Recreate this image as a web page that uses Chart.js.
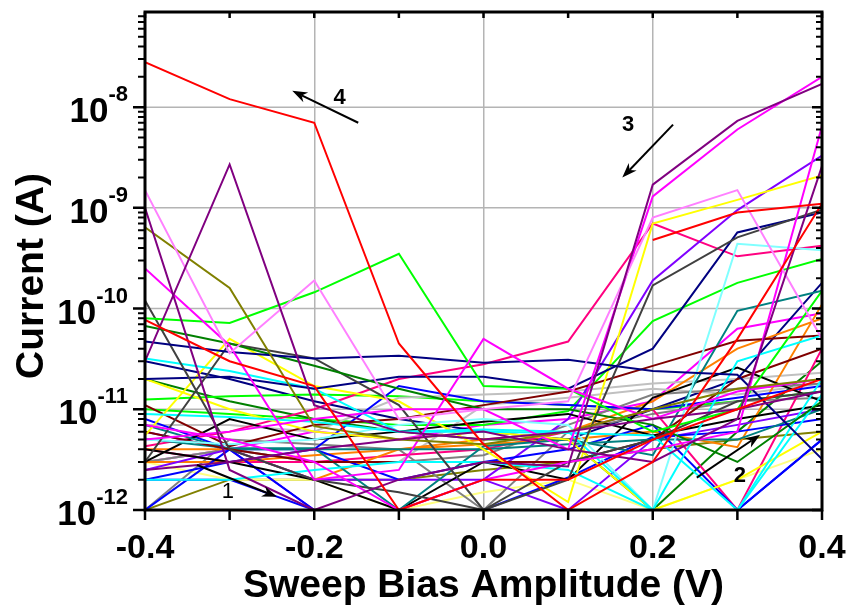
<!DOCTYPE html>
<html>
<head>
<meta charset="utf-8">
<script src="https://cdn.jsdelivr.net/npm/chart.js@4.4.1/dist/chart.umd.min.js"></script>
<style>
  body { margin: 0; background: #fff; }
  #wrap { width: 849px; height: 605px; }
</style>
</head>
<body>
<div id="wrap"><canvas id="ivChart" width="849" height="605"></canvas></div>
<script>
// sweep bias points (V)
const xValues = [-0.4, -0.3, -0.2, -0.1, 0.0, 0.1, 0.2, 0.3, 0.4];
const xTickLabels = ['-0.4', '-0.2', '0.0', '0.2', '0.4'];
const yTickValues = [1e-12, 1e-11, 1e-10, 1e-9, 1e-8];
const yTickExponents = ['-12', '-11', '-10', '-9', '-8'];

// one colour per sweep, same order as seriesCurrents
const seriesColors = [
  '#ff0000', '#ff0000', '#ff0000', '#800080', '#800080', '#800080', '#ff80ff', '#808000',
  '#ff00ff', '#ff00ff', '#ff00ff', '#00ff00', '#000080', '#008000', '#404040', '#404040',
  '#000080', '#00ffff', '#00ffff', '#00ffff', '#80ffff', '#ffff00', '#ffff00', '#800000',
  '#800000', '#008080', '#008080', '#000000', '#000000', '#0000ff', '#0000ff', '#0000ff',
  '#8000ff', '#8000ff', '#ff8000', '#ff8000', '#ff0080', '#ff0080', '#808080', '#808080',
  '#c0c0c0', '#c0c0c0', '#ffff80', '#00ff00', '#008000', '#00ff00', '#000080', '#ff00ff',
  '#0000ff', '#808000'
];

// current (A) at each bias point
const seriesCurrents = [
  [2.8e-8, 1.2e-8, 7e-9, 4.5e-11, 4.5e-12, 1e-12, 3e-12, 5e-11, 1.1e-9],
  [7.7e-11, 3e-11, 1.7e-11, 1e-12, 2e-12, 2e-12, 5e-12, 1e-11, 2e-11],
  [null, null, null, null, null, null, 4.8e-10, 9e-10, 1.1e-9],
  [3e-11, 2.7e-9, 1.1e-11, 6e-12, 5e-12, 6e-12, 8e-12, 1e-11, 1.5e-11],
  [1e-9, 2.5e-12, 1e-12, 2e-12, 3e-12, 2.7e-12, 1.7e-9, 7.3e-9, 1.7e-8],
  [2.5e-12, 3e-12, 4e-12, 5e-12, 6e-12, 4e-12, 3e-12, 8e-12, 2.6e-9],
  [1.5e-9, 3.6e-11, 1.9e-10, 8e-12, 1e-11, 1.2e-11, 8e-10, 1.5e-9, 5e-11],
  [6.4e-10, 1.6e-10, 6.8e-12, 5e-12, 4.5e-12, 6e-12, 1e-11, 1.6e-11, 2e-11],
  [2.5e-10, 4.3e-11, 2e-12, 2.5e-12, 5e-11, 1.6e-11, 8e-12, 1.5e-11, 2e-11],
  [5e-12, 6e-12, 8e-12, 1e-11, 1e-11, 4e-12, 1.3e-9, 6e-9, 2e-8],
  [7e-12, 5e-12, 3e-12, 1e-12, 2e-12, 3e-12, 4e-12, 6e-12, 6.5e-9],
  [8e-11, 7.2e-11, 1.45e-10, 3.5e-10, 1.7e-11, 1.6e-11, 6e-12, 1e-11, 1.5e-10],
  [4.7e-11, 3.7e-11, 3.2e-11, 3.4e-11, 2.9e-11, 3.1e-11, 2.4e-11, 2.2e-11, 3.2e-12],
  [6.7e-11, 4.5e-11, 2.7e-11, 1.6e-11, 1e-11, 1e-11, 7e-12, 3e-12, 1.2e-11],
  [1.2e-10, 4e-12, 2e-12, 1.5e-12, 1e-12, 3e-12, 5e-12, 1.2e-11, 1.5e-11],
  [3e-12, 4.5e-11, 3.2e-11, 1.1e-11, 1e-12, 2e-12, 1.7e-10, 5.1e-10, 9.6e-10],
  [2e-11, 2.1e-11, 1.6e-11, 2.1e-11, 2.1e-11, 1.6e-11, 4e-11, 5.7e-10, 9e-10],
  [3.2e-11, 2.4e-11, 1.6e-11, 6e-12, 6.3e-12, 6e-12, 1e-12, 3e-11, 5.4e-11],
  [9e-12, 8.4e-12, 7.5e-12, 6e-12, 6e-12, 5.8e-12, 5.5e-12, 1e-12, 1.4e-11],
  [2e-12, 2e-12, 2.5e-12, 3e-12, 3e-12, 2.5e-12, 1e-12, 1e-12, 2e-11],
  [5e-12, 4.5e-12, 5e-12, 7e-12, 8e-12, 7e-12, 1e-12, 4.4e-10, 3.8e-10],
  [5.5e-12, 5e-11, 1.7e-11, 1.2e-11, 4e-12, 1.2e-12, 7e-10, 1.2e-9, 2.1e-9],
  [2e-11, 1e-11, 6e-12, 5e-12, 6e-12, 5e-12, 1e-12, 2e-12, 6e-12],
  [1.1e-11, 4.3e-12, 7e-12, 8e-12, 1.1e-11, 1.5e-11, 2.7e-11, 4.8e-11, 5.4e-11],
  [6e-12, 4e-12, 3e-12, 3e-12, 3e-12, 3e-12, 5e-12, 2e-11, 4e-11],
  [5.1e-12, 4.1e-12, 4.1e-12, 1e-12, 4.3e-12, 5e-12, 3.5e-12, 9.5e-11, 1.5e-10],
  [7e-12, 4e-12, 4e-12, 4e-12, 4e-12, 4.5e-12, 5e-12, 5e-12, 1e-11],
  [3e-12, 8e-12, 5e-12, 6e-12, 7.5e-12, 9e-12, 5.5e-12, 8e-12, 1.1e-11],
  [4e-12, 3e-12, 2e-12, 1e-12, 3e-12, 2e-12, 1.3e-11, 2.6e-11, 1.2e-11],
  [8e-12, 4e-12, 1e-12, 1e-12, 1e-12, 2.1e-12, 5.3e-12, 6e-12, 8e-12],
  [1e-12, 4e-12, 4e-12, 1.7e-11, 1.2e-11, 1.1e-11, 1e-11, 1.3e-11, 1.7e-11],
  [2e-12, 3e-12, 4e-12, 2e-12, 3e-12, 4e-12, 7e-12, 1e-12, 5e-12],
  [6e-12, 4e-12, 1e-12, 1e-12, 2e-12, 8e-12, 1.9e-10, 9.5e-10, 3.3e-9],
  [2.5e-12, 4e-12, 2e-12, 2e-12, 2e-12, 1e-12, 5e-12, 7e-12, 1e-11],
  [4e-12, 4e-12, 2e-12, 4e-12, 4.5e-12, 5e-12, 6e-12, 4.2e-12, 1.1e-10],
  [3e-12, 3e-12, 3.5e-12, 4e-12, 5e-12, 6e-12, 1.2e-11, 4e-11, 8e-11],
  [4.3e-12, 6e-12, 1e-11, 2e-11, 2.8e-11, 4.7e-11, 7e-10, 3.3e-10, 4.2e-10],
  [4e-12, 3e-12, 3e-12, 3.5e-12, 4e-12, 6e-12, 1e-11, 1e-12, 4e-11],
  [1e-12, 5e-12, 4.5e-12, 4e-12, 1e-12, 6e-12, 9e-12, 1.2e-11, 1.3e-11],
  [3e-12, 4e-12, 3e-12, 3e-12, 3.5e-12, 7e-12, 1.4e-11, 1.6e-11, 1.8e-11],
  [7e-12, 7e-12, 6e-12, 1.3e-11, 1.4e-11, 1.5e-11, 1.8e-11, 2e-11, 2.3e-11],
  [3e-12, 4e-12, 3e-12, 3e-12, 1.1e-11, 1.3e-11, 1.6e-11, 1.4e-11, 1.8e-11],
  [3e-12, 2e-12, 2e-12, 1e-12, 1.5e-12, 2e-12, 1e-12, 2e-12, 4e-12],
  [1.25e-11, 1.35e-11, 1.4e-11, 1.35e-11, 1.2e-11, 1.1e-11, 1e-11, 1.2e-11, 1.5e-11],
  [2e-11, 1.2e-11, 8e-12, 6e-12, 5e-12, 5e-12, 1e-12, 6e-12, 3e-11],
  [1e-11, 9e-12, 8e-12, 7e-12, 7e-12, 9.6e-12, 7.5e-11, 1.8e-10, 3.1e-10],
  [3e-11, 2e-11, 1.2e-11, 8e-12, 6e-12, 5e-12, 1e-11, 2e-11, 1.8e-10],
  [3e-12, 4e-12, 6e-12, 5e-12, 7e-12, 8e-12, 1.2e-11, 6.3e-11, 9e-11],
  [2e-12, 2e-12, 1e-12, 1e-12, 1e-12, 1e-12, 1e-12, 1e-12, 5e-12],
  [1e-12, 2e-12, 2e-12, 2e-12, 2.5e-12, 3e-12, 4e-12, 5e-12, 6e-12]
];

// numbered arrows: [x1, y1, x2, y2, labelX, labelY, label]
const arrowNotes = [
  [-0.3385, 2.8e-12, -0.244, 1.35e-12, -0.302, 1.5e-12, '1'],
  [0.252, 2.1e-12, 0.327, 5.6e-12, 0.303, 2.2e-12, '2'],
  [0.224, 6.7e-9, 0.164, 2e-9, 0.171, 6.6e-9, '3'],
  [-0.148, 7e-9, -0.226, 1.45e-8, -0.170, 1.22e-8, '4']
];

const FONT = "'Liberation Sans', Arial, sans-serif";

const datasets = seriesCurrents.map((vals, i) => ({
  data: vals.map((v, j) => ({ x: xValues[j], y: v })),
  borderColor: seriesColors[i],
  borderWidth: 2,
  pointRadius: 0,
  fill: false,
  tension: 0
}));

function drawArrow(ctx, x1, y1, x2, y2) {
  const ang = Math.atan2(y2 - y1, x2 - x1);
  const len = 15, half = 5.5;
  ctx.beginPath();
  ctx.moveTo(x1, y1);
  ctx.lineTo(x2 - Math.cos(ang) * len * 0.7, y2 - Math.sin(ang) * len * 0.7);
  ctx.stroke();
  ctx.beginPath();
  ctx.moveTo(x2, y2);
  ctx.lineTo(x2 - Math.cos(ang) * len - Math.sin(ang) * half, y2 - Math.sin(ang) * len + Math.cos(ang) * half);
  ctx.lineTo(x2 - Math.cos(ang) * len * 0.7, y2 - Math.sin(ang) * len * 0.7);
  ctx.lineTo(x2 - Math.cos(ang) * len + Math.sin(ang) * half, y2 - Math.sin(ang) * len - Math.cos(ang) * half);
  ctx.closePath();
  ctx.fill();
}

const originFrame = {
  id: 'originFrame',
  beforeDatasetsDraw(chart) {
    const { ctx, chartArea: a, scales: { y } } = chart;
    ctx.save();
    ctx.strokeStyle = '#b4b4b4';
    ctx.lineWidth = 1.5;
    yTickValues.forEach(v => {
      const py = y.getPixelForValue(v);
      ctx.beginPath();
      ctx.moveTo(a.left, py);
      ctx.lineTo(a.right, py);
      ctx.stroke();
    });
    ctx.restore();
  },
  afterDraw(chart) {
    const { ctx, chartArea: a, scales: { x, y } } = chart;
    ctx.save();

    // box
    ctx.strokeStyle = '#000';
    ctx.lineWidth = 3;
    ctx.strokeRect(a.left, a.top, a.right - a.left, a.bottom - a.top);

    // x ticks every 0.1 (bottom out, top in)
    ctx.lineWidth = 2.5;
    xValues.forEach(v => {
      const px = x.getPixelForValue(v);
      ctx.beginPath();
      ctx.moveTo(px, a.bottom);
      ctx.lineTo(px, a.bottom + 10);
      ctx.moveTo(px, a.top);
      ctx.lineTo(px, a.top + 6);
      ctx.stroke();
    });

    // y ticks: decades long, 2..9 short
    for (let d = -12; d <= -8; d++) {
      for (let m = 1; m <= 9; m++) {
        const v = m * Math.pow(10, d);
        if (v > y.max) continue;
        const py = y.getPixelForValue(v);
        const major = m === 1;
        ctx.lineWidth = major ? 2.5 : 2;
        ctx.beginPath();
        ctx.moveTo(a.left - (major ? 12 : 7), py);
        ctx.lineTo(a.left, py);
        ctx.moveTo(a.right, py);
        ctx.lineTo(a.right - (major ? 10 : 6), py);
        ctx.stroke();
      }
    }

    ctx.fillStyle = '#000';

    // y tick labels 10^n
    yTickValues.forEach((v, i) => {
      const py = y.getPixelForValue(v);
      ctx.font = 'bold 22px ' + FONT;
      ctx.textAlign = 'right';
      ctx.textBaseline = 'alphabetic';
      const supW = ctx.measureText(yTickExponents[i]).width;
      ctx.fillText(yTickExponents[i], a.left - 17, py - 6);
      ctx.font = 'bold 35px ' + FONT;
      ctx.fillText('10', a.left - 17 - supW, py + 15);
    });

    // x tick labels
    ctx.font = 'bold 34px ' + FONT;
    ctx.textAlign = 'center';
    ctx.textBaseline = 'alphabetic';
    xTickLabels.forEach(t => {
      ctx.fillText(t, x.getPixelForValue(parseFloat(t)), a.bottom + 48);
    });

    // axis titles
    ctx.font = 'bold 39px ' + FONT;
    ctx.fillText('Sweep Bias Amplitude (V)', (a.left + a.right) / 2, 597);
    ctx.save();
    ctx.translate(43, (a.top + a.bottom) / 2 + 15);
    ctx.rotate(-Math.PI / 2);
    ctx.fillText('Current (A)', 0, 0);
    ctx.restore();

    // numbered arrows
    ctx.strokeStyle = '#000';
    ctx.lineWidth = 2;
    arrowNotes.forEach(n => {
      drawArrow(ctx, x.getPixelForValue(n[0]), y.getPixelForValue(n[1]),
                x.getPixelForValue(n[2]), y.getPixelForValue(n[3]));
      ctx.font = (n[6] === '1' ? '' : 'bold ') + '22px ' + FONT;
      ctx.textAlign = 'center';
      ctx.textBaseline = 'middle';
      ctx.fillText(n[6], x.getPixelForValue(n[4]), y.getPixelForValue(n[5]));
    });

    ctx.restore();
  }
};

new Chart(document.getElementById('ivChart'), {
  type: 'line',
  data: { datasets },
  options: {
    responsive: false,
    animation: false,
    layout: { padding: { left: 145, right: 27, top: 12, bottom: 95 } },
    plugins: { legend: { display: false }, tooltip: { enabled: false } },
    scales: {
      x: {
        type: 'linear', min: -0.4, max: 0.4,
        ticks: { display: false, stepSize: 0.2 },
        grid: { color: '#b4b4b4', lineWidth: 1.5, drawTicks: false },
        border: { display: false }
      },
      y: {
        type: 'logarithmic', min: 1e-12, max: 8.8e-8,
        display: false
      }
    }
  },
  plugins: [originFrame]
});
</script>
</body>
</html>
